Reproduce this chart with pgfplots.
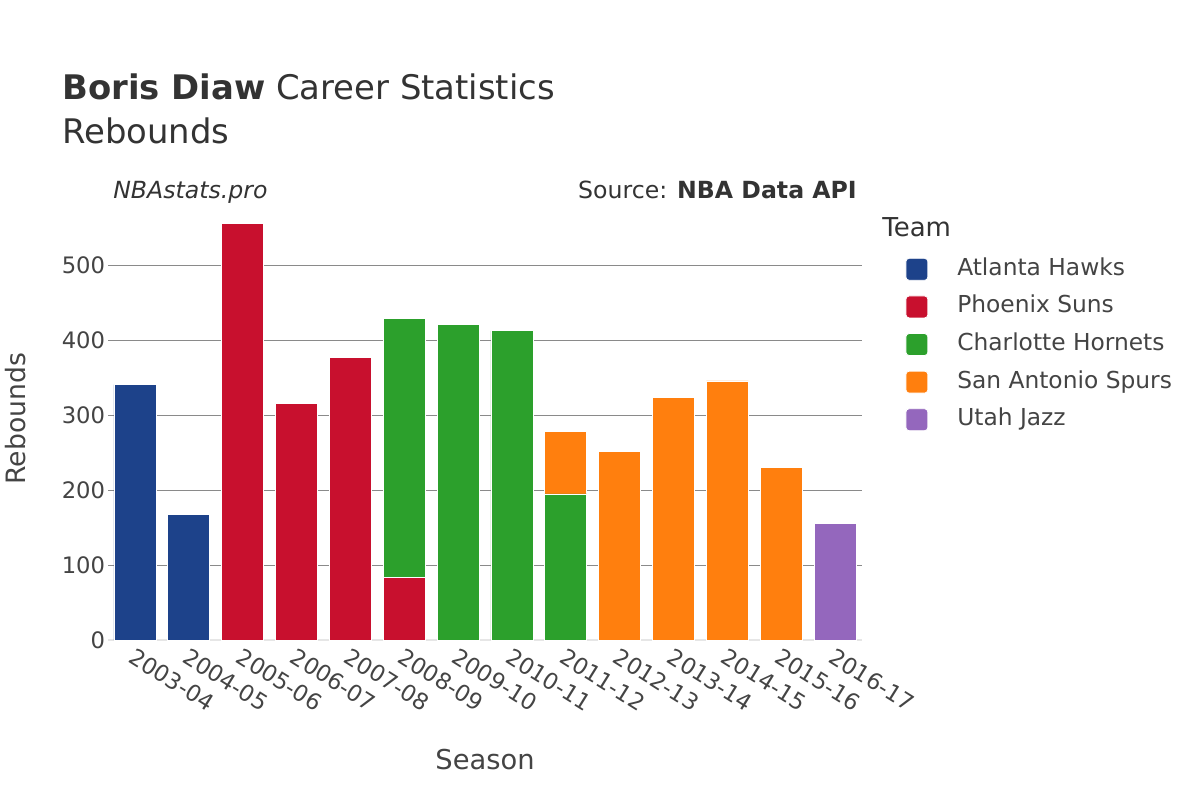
\documentclass[border=0pt]{standalone}
\usepackage{fontspec}
\setmainfont{DejaVu Sans}
\usepackage{pgfplots}
\usepackage{pgfplotstable}
\pgfplotsset{compat=1.18}

\definecolor{atl}{HTML}{1D428A}
\definecolor{phx}{HTML}{C8102E}
\definecolor{cha}{HTML}{2CA02C}
\definecolor{sas}{HTML}{FF7F0E}
\definecolor{uta}{HTML}{9467BD}
\definecolor{txt}{HTML}{444444}
\definecolor{ttl}{HTML}{333333}
\definecolor{gridc}{HTML}{8A8A8A}
\definecolor{zeroc}{HTML}{E6E6E6}

% rebounds per season, split by team
\pgfplotstableread{
x ATL PHX CHA SAS UTA
0 341 0 0 0 0
1 168 0 0 0 0
2 0 556 0 0 0
3 0 316 0 0 0
4 0 377 0 0 0
5 0 84 346 0 0
6 0 0 422 0 0
7 0 0 413 0 0
8 0 0 195 83 0
9 0 0 0 252 0
10 0 0 0 324 0
11 0 0 0 346 0
12 0 0 0 231 0
13 0 0 0 0 156
}\reb

\begin{document}
\begin{tikzpicture}[x=0.75pt,y=0.75pt]
\path[fill=white] (0,0) rectangle (1200,800);
\begin{axis}[
    at={(81pt,120pt)}, anchor=south west,
    scale only axis,
    width=565.5pt, height=328.5pt,
    ybar stacked,
    bar width=31.5pt,
    xmin=-0.5, xmax=13.5,
    ymin=0, ymax=585,
    xtick=data,
    xticklabels={2003-04,2004-05,2005-06,2006-07,2007-08,2008-09,2009-10,2010-11,2011-12,2012-13,2013-14,2014-15,2015-16,2016-17},
    x tick label style={rotate=-32, anchor=north west, font=\fontsize{17}{20}\selectfont, color=txt, inner sep=1pt, xshift=2.5pt, yshift=-3pt},
    ytick={100,200,300,400,500},
    extra y ticks={0},
    extra y tick style={grid style={color=zeroc, line width=1.5pt}},
    y tick label style={font=\fontsize{17}{20}\selectfont, color=txt, inner sep=2pt},
    /pgf/number format/assume math mode=true,
    ymajorgrids,
    grid style={color=gridc, line width=0.6pt},
    major tick style={draw=none},
    major tick length=0pt,
    axis line style={draw=none},
    xlabel={Season},
    xlabel style={at={(axis description cs:0.5,-0.274)}, anchor=center, font=\fontsize{20.5}{24}\selectfont, color=txt},
    ylabel={Rebounds},
    ylabel style={at={(axis description cs:-0.122,0.505)}, anchor=center, rotate=0, font=\fontsize{20}{24}\selectfont, color=txt},
    legend style={at={(axis description cs:1.052,0.879)}, anchor=north west, draw=none, fill=none,
        font=\fontsize{17.5}{21}\selectfont, text=txt, row sep=11.1pt,
        nodes={inner sep=0pt, text height=12.5pt, text depth=3.5pt},
        /tikz/every odd column/.style={column sep=21.75pt}},
    legend cell align=left,
    legend image code/.code={\fill[#1, rounded corners=2.5pt] (0pt,-8.25pt) rectangle (16.5pt,8.25pt);},
    every axis plot/.append style={draw=white, line width=0.6pt},
]
\addplot[fill=atl] table[x=x, y=ATL] {\reb};
\addplot[fill=phx] table[x=x, y=PHX] {\reb};
\addplot[fill=cha] table[x=x, y=CHA] {\reb};
\addplot[fill=sas] table[x=x, y=SAS] {\reb};
\addplot[fill=uta] table[x=x, y=UTA] {\reb};
\legend{Atlanta Hawks,Phoenix Suns,Charlotte Hornets,San Antonio Spurs,Utah Jazz}
\end{axis}
\node[anchor=base west, inner sep=0pt, color=ttl, font=\fontsize{25.4}{30}\selectfont] at (62,700) {\textbf{Boris Diaw} Career Statistics};
\node[anchor=base west, inner sep=0pt, color=ttl, font=\fontsize{25.4}{30}\selectfont] at (62,656) {Rebounds};
\node[anchor=base west, inner sep=0pt, color=ttl, font=\fontsize{17.7}{21}\itshape] at (113,601) {NBAstats.pro};
\node[anchor=base east, inner sep=0pt, color=ttl, font=\fontsize{17.7}{21}\selectfont] at (857,601) {Source: \textbf{NBA Data API}};
\node[anchor=base west, inner sep=0pt, color=ttl, font=\fontsize{19.5}{23}\selectfont] at (882,563) {Team};
\end{tikzpicture}
\end{document}
